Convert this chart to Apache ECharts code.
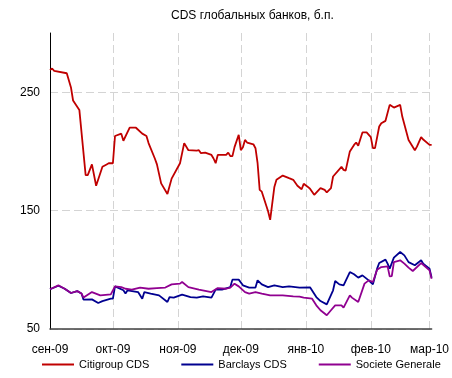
<!DOCTYPE html>
<html>
<head>
<meta charset="utf-8">
<script src="https://cdn.jsdelivr.net/npm/echarts@6/dist/echarts.min.js"></script>
<style>
  html, body { margin: 0; padding: 0; background: #fff; }
  #chart { width: 452px; height: 378px; }
</style>
</head>
<body>
<div id="chart"></div>
<script>
// CDS spreads of global banks, basis points
const firstDay = '2009-09-01';
const lastDay = '2010-03-02';
const monthStarts = ['2009-09-01', '2009-10-01', '2009-11-01', '2009-12-01', '2010-01-01', '2010-02-01', '2010-03-01'];
const monthLabels = ['сен-09', 'окт-09', 'ноя-09', 'дек-09', 'янв-10', 'фев-10', 'мар-10'];
const yTicks = [50, 150, 250];

const citiDates = ['2009-09-01','2009-09-02','2009-09-03','2009-09-09','2009-09-11','2009-09-12','2009-09-15','2009-09-18','2009-09-19','2009-09-21','2009-09-23','2009-09-26','2009-09-28','2009-09-29','2009-10-01','2009-10-02','2009-10-05','2009-10-06','2009-10-09','2009-10-12','2009-10-15','2009-10-17','2009-10-18','2009-10-21','2009-10-22','2009-10-24','2009-10-27','2009-10-29','2009-11-02','2009-11-04','2009-11-06','2009-11-10','2009-11-11','2009-11-12','2009-11-14','2009-11-17','2009-11-18','2009-11-19','2009-11-20','2009-11-24','2009-11-25','2009-11-26','2009-11-27','2009-11-28','2009-11-30','2009-12-01','2009-12-02','2009-12-03','2009-12-04','2009-12-07','2009-12-08','2009-12-09','2009-12-10','2009-12-11','2009-12-13','2009-12-14','2009-12-15','2009-12-17','2009-12-18','2009-12-21','2009-12-24','2009-12-26','2009-12-28','2009-12-30','2009-12-31','2010-01-02','2010-01-03','2010-01-05','2010-01-08','2010-01-10','2010-01-11','2010-01-13','2010-01-14','2010-01-18','2010-01-19','2010-01-20','2010-01-22','2010-01-24','2010-01-25','2010-01-26','2010-01-28','2010-01-30','2010-02-01','2010-02-02','2010-02-03','2010-02-05','2010-02-06','2010-02-08','2010-02-10','2010-02-12','2010-02-15','2010-02-16','2010-02-19','2010-02-22','2010-02-23','2010-02-25','2010-02-26','2010-03-01','2010-03-02'];
const citiValues = [268.8,270,268,266,254,243,235,180,180,189,171,187,189,190,190,213,215,209,220,220,215,213,207,194,189,173,164,177,190,207,201,200.7,201,198.5,199,197,194,190,197,197,199,196,196,203.6,214,201,203.6,209.7,207.5,206,202.7,190,167.5,166,155,149.5,142.2,170,176,179.6,177.4,176,171,168,172.6,170,168.5,163.3,169,167.5,165.3,169,178.8,187,184.4,183.8,200,205.5,207.5,204.7,216,216,212,202.7,202.7,221,223.8,225.8,239.3,237,239.3,229.4,209.7,201,204,212,210,205.5,205.5];

const barcDates = ['2009-09-01','2009-09-05','2009-09-08','2009-09-11','2009-09-14','2009-09-16','2009-09-17','2009-09-21','2009-09-24','2009-09-26','2009-09-30','2009-10-01','2009-10-02','2009-10-06','2009-10-07','2009-10-08','2009-10-13','2009-10-15','2009-10-16','2009-10-19','2009-10-23','2009-10-27','2009-10-28','2009-10-30','2009-11-03','2009-11-07','2009-11-10','2009-11-13','2009-11-17','2009-11-19','2009-11-22','2009-11-26','2009-11-27','2009-11-30','2009-12-02','2009-12-05','2009-12-08','2009-12-09','2009-12-11','2009-12-14','2009-12-17','2009-12-21','2009-12-24','2009-12-29','2010-01-03','2010-01-06','2010-01-08','2010-01-11','2010-01-14','2010-01-15','2010-01-17','2010-01-19','2010-01-22','2010-01-24','2010-01-26','2010-01-28','2010-01-31','2010-02-02','2010-02-04','2010-02-05','2010-02-08','2010-02-09','2010-02-10','2010-02-12','2010-02-15','2010-02-17','2010-02-19','2010-02-22','2010-02-25','2010-02-26','2010-03-01','2010-03-02'];
const barcValues = [83.6,86.5,84,80.4,82,80,74.8,75,72,73.6,75.6,75.6,86,82.7,80,82.7,81.2,75.6,81.2,79.9,78.4,72.8,77,76.5,79,77,76.5,77.6,76.5,83.2,83.2,85.4,91.7,91.7,86.9,85,85,91.1,87.7,85.4,86.9,85.4,86,85,85.2,77,73.6,70.8,82.7,90.5,87.7,86.9,98.1,96.2,93.4,95.3,91.1,87.7,101,105.7,108.6,105.2,101,110.3,115,112.2,106.5,103.8,108,105.2,101,93.4];

const socgDates = ['2009-09-01','2009-09-05','2009-09-08','2009-09-11','2009-09-14','2009-09-16','2009-09-17','2009-09-21','2009-09-25','2009-09-30','2009-10-02','2009-10-05','2009-10-07','2009-10-10','2009-10-14','2009-10-18','2009-10-22','2009-10-26','2009-10-29','2009-11-02','2009-11-03','2009-11-06','2009-11-11','2009-11-17','2009-11-20','2009-11-24','2009-11-26','2009-11-28','2009-11-30','2009-12-03','2009-12-05','2009-12-08','2009-12-11','2009-12-15','2009-12-21','2009-12-26','2009-12-29','2009-12-31','2010-01-04','2010-01-06','2010-01-08','2010-01-11','2010-01-13','2010-01-15','2010-01-18','2010-01-19','2010-01-22','2010-01-23','2010-01-26','2010-01-29','2010-01-31','2010-02-02','2010-02-04','2010-02-06','2010-02-09','2010-02-10','2010-02-11','2010-02-12','2010-02-15','2010-02-17','2010-02-19','2010-02-21','2010-02-25','2010-03-01','2010-03-02'];
const socgValues = [83.6,86.9,84,80.4,82,80,76.5,81.2,78.4,79.3,86,85.4,84,83.2,85,84,84.5,85,87.7,88.3,89.7,85.4,83.2,81.2,84.6,84,85,88.3,86,81.2,79.9,81.2,79.9,78.4,78.4,77.6,77.3,76.5,75.6,70,65.8,61.6,65.8,70,70,68,78.4,76.5,72.8,88.3,91.1,89.7,100.1,102.3,102.9,94.5,94.7,106.5,108,105.2,101.8,99,105.7,99.5,92.5];

// every calendar day of the period, so the date axis is evenly spaced
function calendarDays(from, to) {
  const out = [];
  const d = new Date(from + 'T00:00:00Z');
  const end = new Date(to + 'T00:00:00Z');
  while (d <= end) {
    out.push(d.toISOString().slice(0, 10));
    d.setUTCDate(d.getUTCDate() + 1);
  }
  return out;
}
const days = calendarDays(firstDay, lastDay);
const isMonthStart = (i, v) => monthStarts.indexOf(v) >= 0;

const pairs = (dates, values) => dates.map((d, i) => [d, values[i]]);

const FONT = 'Arial, "Liberation Sans", sans-serif';
const gridDash = { color: '#d4d4d4', width: 1, type: [8, 4] };

const chart = echarts.init(document.getElementById('chart'), null, { renderer: 'canvas' });

chart.setOption({
  animation: false,
  backgroundColor: '#ffffff',
  textStyle: { fontFamily: FONT },
  title: {
    text: 'CDS глобальных банков, б.п.',
    left: 166,
    top: 5,
    textStyle: { fontSize: 12, fontWeight: 'normal', color: '#000', fontFamily: FONT }
  },
  grid: { left: 50, right: 19, top: 33, bottom: 49, containLabel: false },
  xAxis: {
    type: 'category',
    data: days,
    boundaryGap: false,
    axisLine: { show: true, lineStyle: { color: '#404040', width: 1.5 } },
    axisTick: { show: false, interval: isMonthStart },
    axisLabel: {
      interval: isMonthStart,
      margin: 15,
      fontSize: 12,
      color: '#000',
      fontFamily: FONT,
      formatter: (v) => monthLabels[monthStarts.indexOf(v)] || ''
    },
    splitLine: { show: true, interval: isMonthStart, lineStyle: gridDash }
  },
  yAxis: {
    type: 'value',
    min: 50,
    max: 300,
    axisLine: { show: true, lineStyle: { color: '#000', width: 1 } },
    axisTick: { show: false, customValues: yTicks },
    axisLabel: { customValues: yTicks, margin: 10, fontSize: 12, color: '#000', fontFamily: FONT },
    splitLine: { show: true, lineStyle: gridDash }
  },
  legend: {
    top: 359,
    left: 42,
    padding: 0,
    width: 410,
    icon: 'rect',
    itemWidth: 32,
    itemHeight: 2,
    itemGap: 32,
    textStyle: { fontSize: 11, color: '#000', fontFamily: FONT },
    data: ['Citigroup CDS', 'Barclays CDS', 'Societe Generale']
  },
  series: [
    {
      name: 'Citigroup CDS', type: 'line', symbol: 'none', color: '#c00000',
      lineStyle: { width: 1.8, color: '#c00000' },
      data: pairs(citiDates, citiValues)
    },
    {
      name: 'Barclays CDS', type: 'line', symbol: 'none', color: '#000090',
      lineStyle: { width: 1.8, color: '#000090' },
      data: pairs(barcDates, barcValues)
    },
    {
      name: 'Societe Generale', type: 'line', symbol: 'none', color: '#900090',
      lineStyle: { width: 1.8, color: '#900090' },
      data: pairs(socgDates, socgValues)
    }
  ]
});
</script>
</body>
</html>
